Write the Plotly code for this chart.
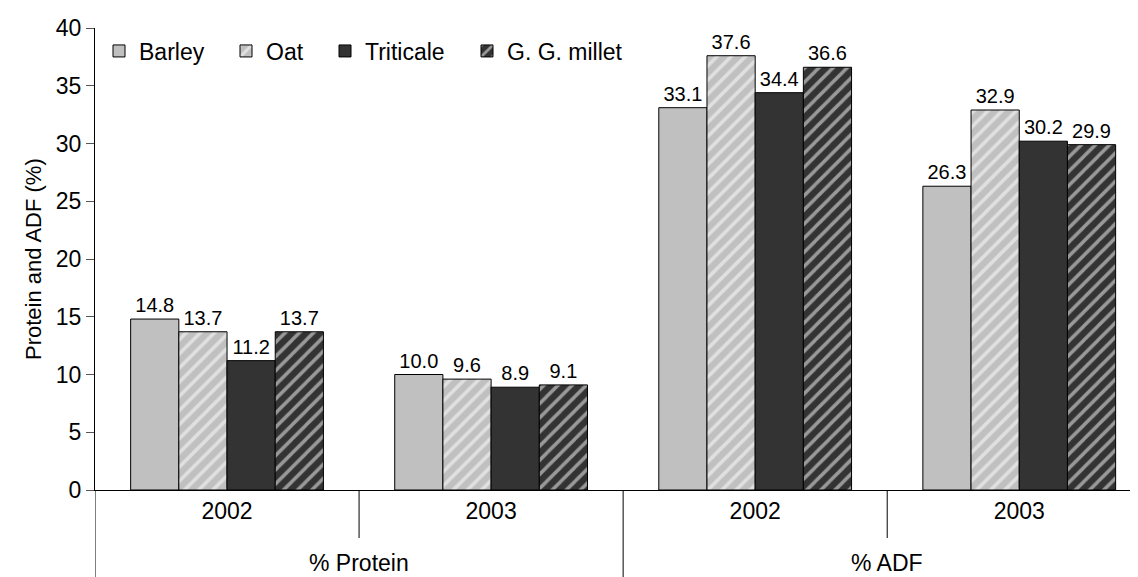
import plotly.graph_objects as go

outer_labels = ["% Protein", "% ADF"]
inner_labels = ["2002", "2003", "2002", "2003"]
positions = [0, 1, 2, 3]
series = ["Barley", "Oat", "Triticale", "G. G. millet"]
barley = [14.8, 10.0, 33.1, 26.3]
oat = [13.7, 9.6, 37.6, 32.9]
triticale = [11.2, 8.9, 34.4, 30.2]
millet = [13.7, 9.1, 36.6, 29.9]
y_ticks = [0, 5, 10, 15, 20, 25, 30, 35, 40]
y_title = "Protein and ADF (%)"

W, H = 1138, 577
ML, MR, MT, MB = 87, 0, 20, 95
FONT = "Liberation Sans, Arial, sans-serif"
styles = [
    dict(color="#c0c0c0", pattern=None),
    dict(color="#c0c0c0", pattern=dict(shape="/", fgcolor="#ffffff", bgcolor="#c0c0c0", size=10, solidity=0.36, fillmode="overlay")),
    dict(color="#333333", pattern=None),
    dict(color="#333333", pattern=dict(shape="/", fgcolor="#ffffff", bgcolor="#333333", size=10, solidity=0.35, fillmode="overlay")),
]
legend_ids = ["legend", "legend2", "legend3", "legend4"]
legend_px = [91, 218, 317, 459]

fig = go.Figure()
for name, vals, st, lid in zip(series, [barley, oat, triticale, millet], styles, legend_ids):
    marker = dict(color=st["color"], line=dict(color="#000000", width=1))
    if st["pattern"]:
        marker["pattern"] = st["pattern"]
    fig.add_trace(go.Bar(
        name=name, x=positions, y=vals, marker=marker, legend=lid,
        texttemplate="%{y:.1f}", textposition="outside",
        textfont=dict(family=FONT, size=20, color="#000000"),
        cliponaxis=False,
    ))

plot_w = W - ML - MR
plot_h = H - MT - MB
tick_frac = 48 / plot_h
bottom_frac = MB / plot_h

shapes = [
    dict(type="line", xref="x", yref="paper", x0=-0.5, x1=-0.5, y0=0, y1=-bottom_frac,
         line=dict(color="#000000", width=1)),
    dict(type="line", xref="x", yref="paper", x0=1.5, x1=1.5, y0=0, y1=-bottom_frac,
         line=dict(color="#000000", width=1)),
]
for xb in [0.5, 2.5]:
    shapes.append(dict(type="line", xref="x", yref="paper", x0=xb, x1=xb, y0=0, y1=-tick_frac,
                       line=dict(color="#000000", width=1)))

annotations = []
for lab, xc in zip(outer_labels, [0.5, 2.5]):
    annotations.append(dict(text=lab, xref="x", yref="paper", x=xc, y=-(555 - (H - MB)) / plot_h,
                            yanchor="middle", xanchor="center", showarrow=False,
                            font=dict(family=FONT, size=23, color="#000000")))
annotations.append(dict(text=y_title, xref="paper", yref="paper", x=(25 - ML) / plot_w, y=0.5,
                        xanchor="center", yanchor="middle", textangle=-90, showarrow=False,
                        font=dict(family=FONT, size=22, color="#000000")))

legends = {}
for lid, px in zip(legend_ids, legend_px):
    legends[lid] = dict(xref="container", yref="container", x=px / W, y=1 - 43 / H,
                        xanchor="left", yanchor="middle",
                        font=dict(family=FONT, size=23, color="#000000"),
                        bgcolor="rgba(0,0,0,0)", itemwidth=30)

fig.update_layout(
    width=W, height=H,
    margin=dict(l=ML, r=MR, t=MT, b=MB, autoexpand=False),
    paper_bgcolor="white", plot_bgcolor="white",
    barmode="group", bargap=0.27, bargroupgap=0,
    font=dict(family=FONT, size=23, color="#000000"),
    showlegend=True,
    shapes=shapes,
    annotations=annotations,
    **legends,
)
fig.update_yaxes(range=[0, 40], tickvals=y_ticks, showgrid=False, zeroline=False,
                 showline=True, linecolor="#000000", linewidth=1,
                 ticks="outside", ticklen=8, tickcolor="#555555",
                 tickfont=dict(size=23))
fig.update_xaxes(range=[-0.5, 3.48], tickvals=positions, ticktext=inner_labels,
                 showline=True, linecolor="#000000", linewidth=1,
                 ticks="", showgrid=False, zeroline=False,
                 tickfont=dict(size=23), ticklabelstandoff=0)

fig.write_html("out.html")
